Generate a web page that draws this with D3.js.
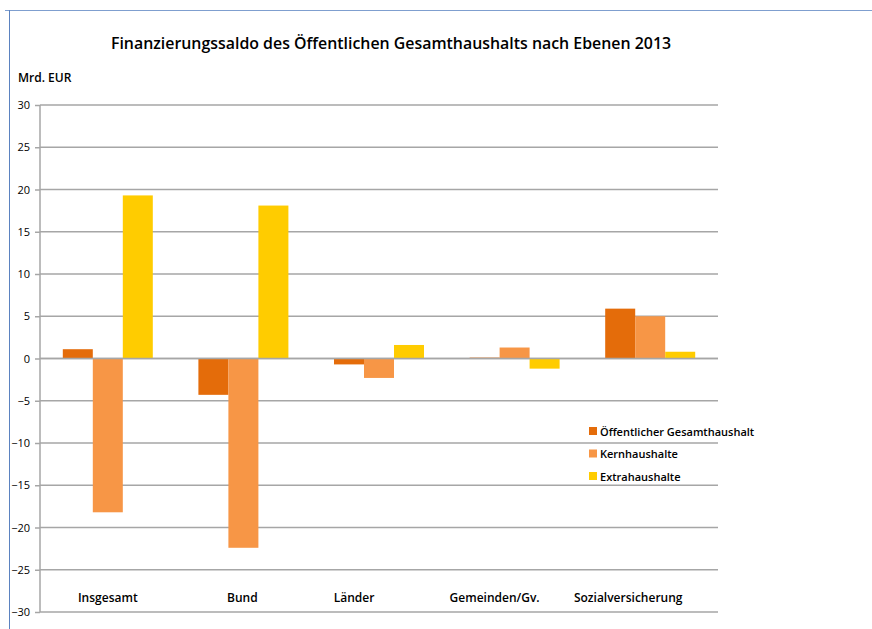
<!DOCTYPE html>
<html><head><meta charset="utf-8">
<script src="https://cdn.jsdelivr.net/npm/d3@7/dist/d3.min.js"></script>
<style>body{margin:0;background:#fff}svg{display:block}</style>
</head><body>
<svg id="c" width="872" height="629"></svg>
<script>
const categories = ["Insgesamt","Bund","Länder","Gemeinden/Gv.","Sozialversicherung"];
const seriesNames = ["Öffentlicher Gesamthaushalt","Kernhaushalte","Extrahaushalte"];
const gesamt = [1.1, -4.3, -0.7, 0.1, 5.9];
const kern = [-18.2, -22.4, -2.3, 1.3, 5.0];
const extra = [19.3, 18.1, 1.6, -1.2, 0.8];
const yTicks = [-30,-25,-20,-15,-10,-5,0,5,10,15,20,25,30];
const colors = ["#E46C0A","#F79646","#FFCC00"];
const series = [gesamt, kern, extra];

const svg = d3.select("#c");
const font = "'Open Sans', 'Liberation Sans', sans-serif";
const L = 40, R = 718, T = 105, B = 612;
const y = d3.scaleLinear().domain([-30,30]).range([B,T]);
const x0 = d3.scaleBand().domain(categories).range([L,R]).paddingInner(0).paddingOuter(0);
const inner = 90;
const x1 = d3.scaleBand().domain([0,1,2]).range([0,inner]);
// the category labels in the original sit slightly off their band centres
const labelShift = [0, -1, -25, -20, -22];

// frame
svg.append("line").attr("x1",5).attr("x2",872).attr("y1",10.5).attr("y2",10.5).attr("stroke","#7f9fcf").attr("stroke-width",1);
svg.append("line").attr("x1",9.5).attr("x2",9.5).attr("y1",10).attr("y2",629).attr("stroke","#5b82c0").attr("stroke-width",1);

// title
svg.append("text").attr("x",391).attr("y",49).attr("text-anchor","middle")
  .attr("font-family",font).attr("font-weight","600").attr("font-size",15.9).attr("fill","#000")
  .text("Finanzierungssaldo des Öffentlichen Gesamthaushalts nach Ebenen 2013");
svg.append("text").attr("x",18).attr("y",82).attr("font-family",font).attr("font-weight","600")
  .attr("font-size",12).text("Mrd. EUR");

// grid
const ax = d3.axisLeft(y).tickValues(yTicks).tickSize(5).tickFormat(d3.format("d"));
const g = svg.append("g").attr("transform",`translate(${L},0)`).call(ax);
g.select(".domain").remove();
g.selectAll(".tick line").attr("stroke","#a6a6a6").attr("stroke-width",1.5);
g.selectAll(".tick text").attr("font-family",font).attr("font-size",11).attr("fill","#000").attr("x",-10);
svg.append("g").selectAll("line").data(yTicks).join("line")
  .attr("x1",L).attr("x2",R).attr("y1",d=>y(d)).attr("y2",d=>y(d))
  .attr("stroke","#a6a6a6").attr("stroke-width",1.5);
svg.append("line").attr("x1",L).attr("x2",L).attr("y1",T).attr("y2",B).attr("stroke","#a6a6a6").attr("stroke-width",1.5);

// bars
series.forEach((s,i)=>{
  svg.append("g").selectAll("rect").data(s).join("rect")
    .attr("x",(d,j)=>x0(categories[j]) + (x0.bandwidth()-inner)/2 + x1(i))
    .attr("width",x1.bandwidth())
    .attr("y",d=>y(Math.max(0,d)))
    .attr("height",d=>Math.abs(y(d)-y(0)))
    .attr("fill",colors[i]);
});
// zero line on top
svg.append("line").attr("x1",L).attr("x2",R).attr("y1",y(0)).attr("y2",y(0)).attr("stroke","#a6a6a6").attr("stroke-width",1.5);

// category labels
svg.append("g").selectAll("text").data(categories).join("text")
  .attr("x",(d,i)=>x0(d)+x0.bandwidth()/2+labelShift[i]).attr("y",602).attr("text-anchor","middle")
  .attr("font-family",font).attr("font-weight","600").attr("font-size",12).text(d=>d);

// legend
const lg = svg.append("g");
seriesNames.forEach((n,i)=>{
  const yy = 432 + i*22.5;
  lg.append("rect").attr("x",589).attr("y",yy-5).attr("width",8).attr("height",8).attr("fill",colors[i]);
  lg.append("text").attr("x",600).attr("y",yy+3.5).attr("font-family",font).attr("font-weight","600")
    .attr("font-size",11).text(n);
});
</script>
</body></html>
